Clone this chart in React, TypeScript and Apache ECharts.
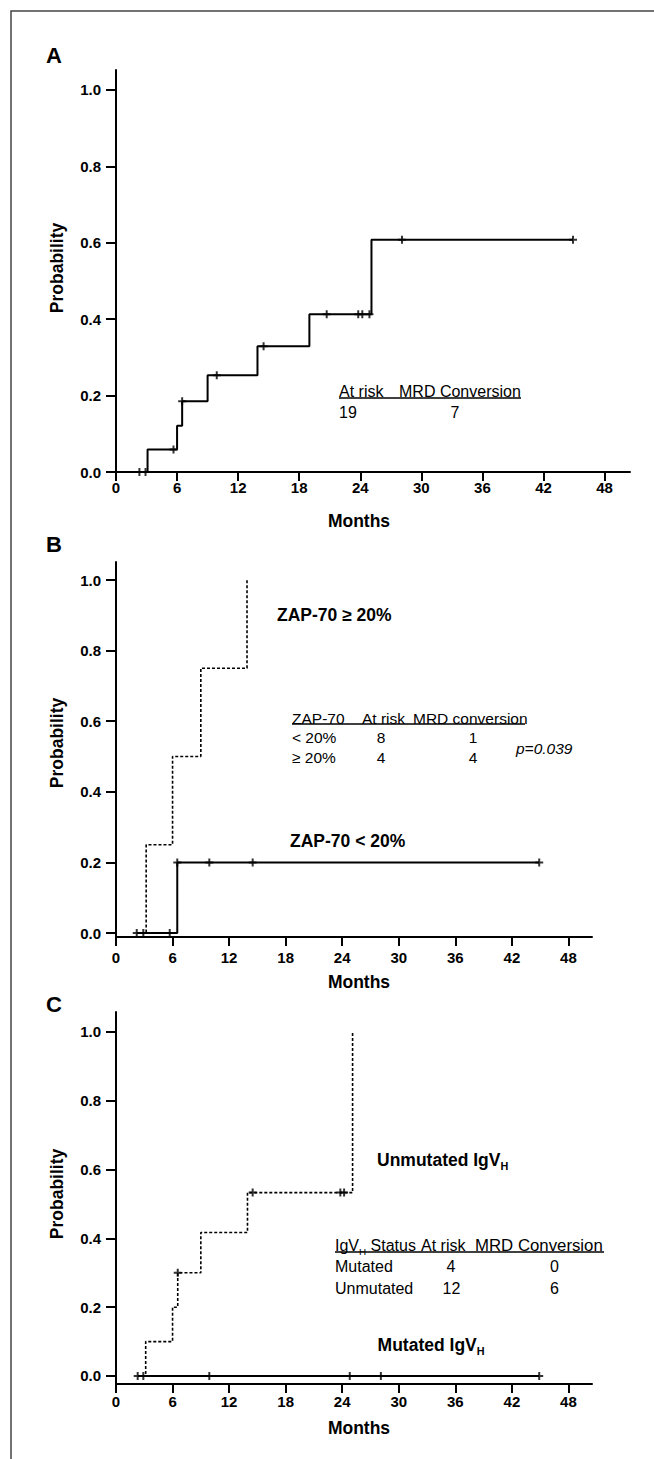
import { useEffect, useRef } from "react";
import * as echarts from "echarts";

const FONT = "'Liberation Sans', Arial, Helvetica, sans-serif";

// ---- axis ticks ----
const monthTicks = [0, 6, 12, 18, 24, 30, 36, 42, 48];
const probTicks = [0, 0.2, 0.4, 0.6, 0.8, 1.0];

// ---- Panel A: all patients ----
const aStartMonth = 2.3;
const aEndMonth = 44.9;
const aEventMonths = [3.1, 6.0, 6.5, 9.0, 13.9, 19.0, 25.1];
const aEventProb = [0.059, 0.121, 0.185, 0.253, 0.329, 0.413, 0.608];
const aCensorMonths = [2.3, 2.9, 5.65, 6.5, 9.9, 14.5, 20.7, 23.8, 24.2, 24.9, 28.1, 44.9];

// ---- Panel B: ZAP-70 ----
const bLowStart = 2.2;
const bLowEnd = 44.9;
const bLowEventMonths = [6.5];
const bLowEventProb = [0.2];
const bLowCensorMonths = [2.2, 2.9, 5.7, 6.5, 9.9, 14.5, 44.9];
const bHighStart = 2.2;
const bHighEnd = 13.9;
const bHighEventMonths = [3.2, 6.0, 9.0, 13.9];
const bHighEventProb = [0.25, 0.5, 0.75, 1.0];

// ---- Panel C: IgVH ----
const cMutStart = 2.3;
const cMutEnd = 44.9;
const cMutEventMonths: number[] = [];
const cMutEventProb: number[] = [];
const cMutCensorMonths = [2.3, 2.9, 9.9, 24.8, 28.1, 44.9];
const cUnStart = 2.3;
const cUnEnd = 25.1;
const cUnEventMonths = [3.15, 6.0, 6.55, 9.0, 13.95, 25.1];
const cUnEventProb = [0.1, 0.2, 0.3, 0.417, 0.533, 1.0];
const cUnCensorMonths = [6.55, 14.5, 23.8, 24.2];

function levelAt(t: number, months: number[], probs: number[]) {
  let v = 0;
  for (let i = 0; i < months.length; i++) if (months[i] <= t + 1e-9) v = probs[i];
  return v;
}
function curve(start: number, end: number, months: number[], probs: number[]) {
  const pts: number[][] = [[start, 0]];
  months.forEach((m, i) => pts.push([m, probs[i]]));
  const last = pts[pts.length - 1];
  if (end > last[0]) pts.push([end, last[1]]);
  return pts;
}
function censors(times: number[], months: number[], probs: number[]) {
  return times.map((t) => [t, levelAt(t, months, probs)]);
}

const PLUS = "path://M3,0H5V3H8V5H5V8H3V5H0V3H3Z";

function lineSeries(idx: number, data: number[][], dashed: boolean) {
  return {
    type: "line",
    xAxisIndex: idx,
    yAxisIndex: idx,
    step: "end",
    data,
    symbol: "none",
    showSymbol: false,
    silent: true,
    clip: false,
    z: dashed ? 2 : 3,
    lineStyle: dashed
      ? { color: "#000", width: 1.6, type: [3, 2] }
      : { color: "#000", width: 2, type: "solid" },
  };
}
function censorSeries(idx: number, data: number[][]) {
  return {
    type: "scatter",
    xAxisIndex: idx,
    yAxisIndex: idx,
    data,
    symbol: PLUS,
    symbolSize: [8, 8],
    silent: true,
    z: 4,
    itemStyle: { color: "#000" },
  };
}

function xAxis(idx: number, max: number, labelMargin: number) {
  return {
    gridIndex: idx,
    type: "value",
    min: 0,
    max,
    axisLine: { show: true, onZero: false, lineStyle: { color: "#000", width: 2 } },
    axisTick: { show: true, length: 9, lineStyle: { color: "#000", width: 2 }, customValues: monthTicks },
    axisLabel: {
      customValues: monthTicks,
      margin: labelMargin,
      fontSize: 15,
      fontWeight: "bold",
      color: "#000",
      fontFamily: FONT,
    },
    splitLine: { show: false },
  };
}
function yAxis(idx: number, min: number, max: number) {
  return {
    gridIndex: idx,
    type: "value",
    min,
    max,
    axisLine: { show: true, onZero: false, lineStyle: { color: "#000", width: 2 } },
    axisTick: { show: true, length: 10, lineStyle: { color: "#000", width: 2 }, customValues: probTicks },
    axisLabel: {
      customValues: probTicks,
      formatter: (v: number) => v.toFixed(1),
      margin: 15,
      fontSize: 15,
      fontWeight: "bold",
      color: "#000",
      fontFamily: FONT,
    },
    splitLine: { show: false },
  };
}

function txt(x: number, y: number, text: string, size: number, opts: any = {}) {
  return {
    type: "text",
    x,
    y,
    rotation: opts.rotation || 0,
    z: 10,
    style: {
      text,
      fill: "#000",
      fontSize: size,
      fontWeight: opts.bold ? "bold" : "normal",
      fontStyle: opts.italic ? "italic" : "normal",
      fontFamily: FONT,
      align: opts.align || "left",
      verticalAlign: "middle",
    },
  };
}
function subTxt(x: number, y: number, main: string, sub: string, tail: string, size: number, bold: boolean) {
  return {
    type: "text",
    x,
    y,
    z: 10,
    style: {
      text: `{a|${main}}{s|${sub}}{a|${tail}}`,
      fill: "#000",
      align: "left",
      verticalAlign: "middle",
      rich: {
        a: { fontSize: size, fontWeight: bold ? "bold" : "normal", fontFamily: FONT, lineHeight: size + 6, verticalAlign: "middle", fill: "#000" },
        s: { fontSize: size * 0.62, fontWeight: bold ? "bold" : "normal", fontFamily: FONT, lineHeight: size * 0.62, verticalAlign: "bottom", fill: "#000" },
      },
    },
  };
}
function hline(x1: number, x2: number, y: number) {
  return {
    type: "line",
    z: 10,
    shape: { x1, y1: y, x2, y2: y },
    style: { stroke: "#000", lineWidth: 1.3 },
  };
}

export default function App() {
  const ref = useRef<HTMLDivElement>(null);
  useEffect(() => {
    if (!ref.current) return;
    const chart = echarts.init(ref.current, undefined, { renderer: "svg" });
    const TA = 16;
    const TB = 15.5;
    const TC = 16;
    const LBL = 17.5;
    const option: any = {
      animation: false,
      backgroundColor: "#fff",
      grid: [
        { left: 116, top: 70, width: 514, height: 402 },
        { left: 116, top: 562, width: 476, height: 375 },
        { left: 116, top: 1012, width: 476, height: 372 },
      ],
      xAxis: [xAxis(0, 50.5, 8), xAxis(1, 50.5, 13), xAxis(2, 50.5, 10)],
      yAxis: [yAxis(0, 0, 1.052), yAxis(1, -0.0113, 1.051), yAxis(2, -0.0233, 1.058)],
      series: [
        lineSeries(0, curve(aStartMonth, aEndMonth, aEventMonths, aEventProb), false),
        censorSeries(0, censors(aCensorMonths, aEventMonths, aEventProb)),
        lineSeries(1, curve(bHighStart, bHighEnd, bHighEventMonths, bHighEventProb), true),
        lineSeries(1, curve(bLowStart, bLowEnd, bLowEventMonths, bLowEventProb), false),
        censorSeries(1, censors(bLowCensorMonths, bLowEventMonths, bLowEventProb)),
        lineSeries(2, curve(cUnStart, cUnEnd, cUnEventMonths, cUnEventProb), true),
        lineSeries(2, curve(cMutStart, cMutEnd, cMutEventMonths, cMutEventProb), false),
        censorSeries(2, censors(cMutCensorMonths, cMutEventMonths, cMutEventProb)),
        censorSeries(2, censors(cUnCensorMonths, cUnEventMonths, cUnEventProb)),
      ],
      graphic: [
        {
          type: "rect",
          z: 0,
          shape: { x: 11, y: 11, width: 700, height: 1500 },
          style: { fill: "none", stroke: "#444", lineWidth: 1.5 },
        },
        // panel letters
        txt(46, 55.5, "A", 22, { bold: true }),
        txt(46, 544, "B", 22, { bold: true }),
        txt(46, 1004.5, "C", 22, { bold: true }),
        // axis titles
        txt(57, 268, "Probability", LBL, { bold: true, align: "center", rotation: Math.PI / 2 }),
        txt(57, 743, "Probability", LBL, { bold: true, align: "center", rotation: Math.PI / 2 }),
        txt(57, 1194, "Probability", LBL, { bold: true, align: "center", rotation: Math.PI / 2 }),
        txt(359, 521, "Months", LBL, { bold: true, align: "center" }),
        txt(359, 982, "Months", LBL, { bold: true, align: "center" }),
        txt(359, 1428, "Months", LBL, { bold: true, align: "center" }),
        // Panel A table
        txt(339, 391, "At risk", TA),
        txt(399, 391, "MRD Conversion", TA),
        hline(339, 521, 398),
        txt(339, 412, "19", TA),
        txt(455, 412, "7", TA, { align: "center" }),
        // Panel B
        txt(277, 615, "ZAP-70 \u2265 20%", LBL, { bold: true }),
        txt(292, 718, "ZAP-70", TB),
        txt(362, 718, "At risk", TB),
        txt(413, 718, "MRD conversion", TB),
        hline(292, 525, 724),
        txt(292, 737.5, "< 20%", TB),
        txt(381, 737.5, "8", TB, { align: "center" }),
        txt(473, 737.5, "1", TB, { align: "center" }),
        txt(292, 757, "\u2265 20%", TB),
        txt(381, 757, "4", TB, { align: "center" }),
        txt(473, 757, "4", TB, { align: "center" }),
        txt(516, 748, "p=0.039", TB, { italic: true }),
        txt(290, 841, "ZAP-70 < 20%", LBL, { bold: true }),
        // Panel C
        subTxt(377, 1160, "Unmutated IgV", "H", "", LBL, true),
        subTxt(335, 1245, "IgV", "H", " Status", TC, false),
        txt(421, 1245, "At risk", TC),
        txt(475, 1245, "MRD Conversion", 16.8),
        hline(335, 604, 1252),
        txt(335, 1266, "Mutated", TC),
        txt(451, 1266, "4", TC, { align: "center" }),
        txt(554.5, 1266, "0", TC, { align: "center" }),
        txt(335, 1288, "Unmutated", TC),
        txt(451.5, 1288, "12", TC, { align: "center" }),
        txt(554.5, 1288, "6", TC, { align: "center" }),
        subTxt(377.6, 1345, "Mutated IgV", "H", "", LBL, true),
      ],
    };
    chart.setOption(option);
    return () => chart.dispose();
  }, []);
  return (
    <div
      ref={ref}
      style={{ position: "absolute", left: 0, top: 0, width: 654, height: 1459, background: "#fff" }}
    />
  );
}
